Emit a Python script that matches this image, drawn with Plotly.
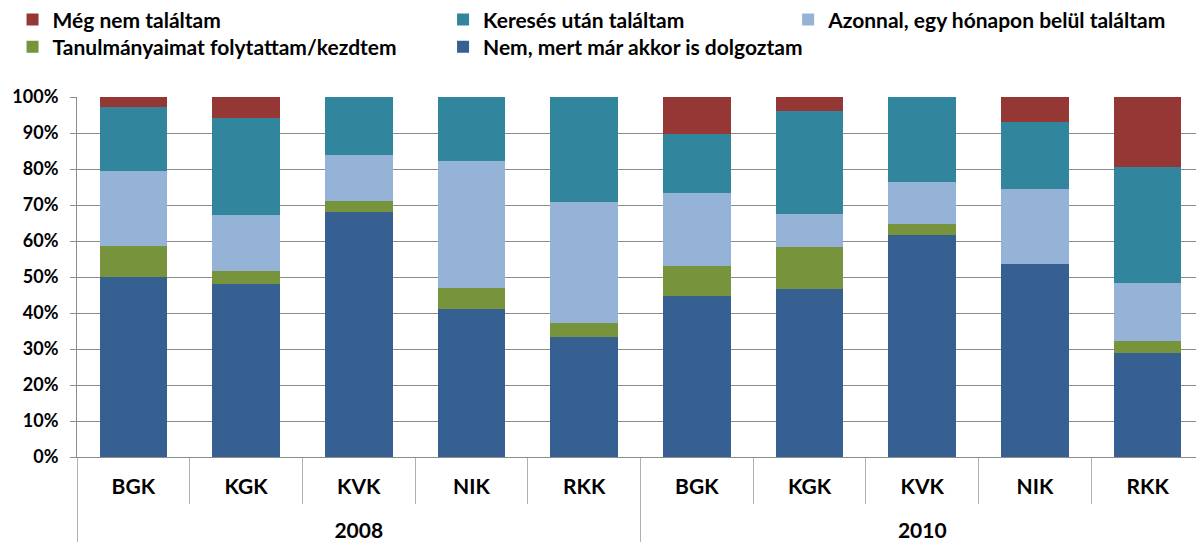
import plotly.graph_objects as go

year_labels = ["2008", "2010"]
years = [year_labels[0]] * 5 + [year_labels[1]] * 5
faculties = ["BGK", "KGK", "KVK", "NIK", "RKK", "BGK", "KGK", "KVK", "NIK", "RKK"]

series_names = [
    "Nem, mert már akkor is dolgoztam",
    "Tanulmányaimat folytattam/kezdtem",
    "Azonnal, egy hónapon belül találtam",
    "Keresés után találtam",
    "Még nem találtam",
]
dolgoztam = [50.0, 48.1, 68.1, 41.0, 33.3, 44.7, 46.7, 61.8, 53.5, 29.0]
tanulmany = [8.7, 3.7, 3.0, 6.0, 4.0, 8.4, 11.7, 2.9, 0.0, 3.2]
azonnal = [20.8, 15.4, 12.9, 35.3, 33.5, 20.3, 9.1, 11.7, 20.9, 16.2]
kereses = [17.6, 27.1, 16.0, 17.7, 29.2, 16.4, 28.7, 23.6, 18.7, 32.2]
meg_nem = [2.9, 5.7, 0.0, 0.0, 0.0, 10.2, 3.8, 0.0, 6.9, 19.4]

colors = ["#376092", "#77933C", "#95B3D7", "#31859C", "#953735"]

values = [dolgoztam, tanulmany, azonnal, kereses, meg_nem]
totals = [sum(v[i] for v in values) for i in range(len(faculties))]

# year labels pushed down one line so the two label levels sit apart
year_axis = ["<br>" + y for y in years]

font_family = "Lato"
legend_fs = 21
tick_fs = 21
ytick_fs = 18

# one legend per entry: (x, y) in paper coordinates, laid out like the original
legend_ids = ["legend5", "legend4", "legend3", "legend2", "legend"]
row1, row2 = 1.214, 1.1389
legend_pos = {
    "legend": (-0.0572, row1),   # Még nem találtam
    "legend2": (0.3248, row1),   # Keresés után találtam
    "legend3": (0.631, row1),    # Azonnal, ...
    "legend4": (-0.0572, row2),  # Tanulmányaimat ...
    "legend5": (0.3248, row2),   # Nem, mert ...
}

fig = go.Figure()
for name, vals, col, lg in zip(series_names, values, colors, legend_ids):
    fig.add_trace(go.Bar(
        x=[year_axis, faculties],
        y=[v / t for v, t in zip(vals, totals)],
        name=name,
        marker=dict(color=col, line=dict(width=0)),
        legend=lg,
        showlegend=True,
    ))

legends = {}
for lid, (lx, ly) in legend_pos.items():
    legends[lid] = dict(
        orientation="v", yanchor="middle", xanchor="left",
        x=lx, y=ly, bgcolor="rgba(0,0,0,0)",
        font=dict(family=font_family, size=legend_fs, color="#000000", weight="bold"),
        itemclick=False, visible=True,
    )

fig.update_layout(
    width=1204, height=545,
    showlegend=True,
    barmode="stack", bargap=0.4,
    plot_bgcolor="white", paper_bgcolor="white",
    margin=dict(l=69, r=8, t=89, b=96, autoexpand=False),
    font=dict(family=font_family, size=tick_fs, color="#000000", weight="bold"),
    xaxis=dict(
        type="multicategory",
        showline=True, linecolor="#8c8c8c", linewidth=1,
        ticks="outside", tickson="boundaries", ticklen=46, tickcolor="#b0b0b0",
        showdividers=True, dividercolor="#b0b0b0", dividerwidth=1,
        ticklabelstandoff=11,
        tickfont=dict(family=font_family, size=tick_fs, color="#000000", weight="bold"),
        showgrid=False, automargin=False,
    ),
    yaxis=dict(
        range=[0, 1], dtick=0.1, tickformat=".0%",
        showgrid=True, gridcolor="#8c8c8c", gridwidth=1,
        showline=True, linecolor="#8c8c8c", linewidth=1,
        ticks="outside", ticklen=6, tickcolor="#8c8c8c",
        ticklabelstandoff=8,
        tickfont=dict(family=font_family, size=ytick_fs, color="#000000", weight="bold"),
        zeroline=False, automargin=False,
    ),
    **legends,
)

fig.write_html("out.html")
